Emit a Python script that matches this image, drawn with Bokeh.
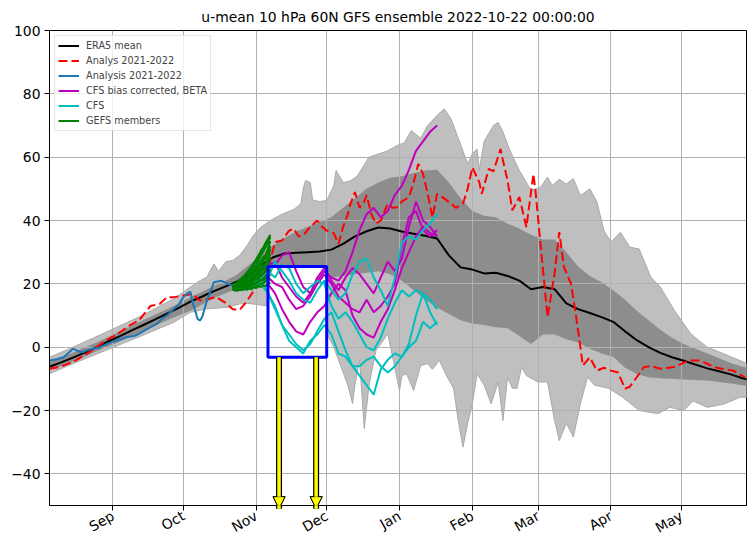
import numpy as np
from bokeh.plotting import figure
from bokeh.models import (Range1d, MonthsTicker, DatetimeTickFormatter, FixedTicker,
                          CustomJSTickFormatter, Legend, LegendItem, Arrow, NormalHead)
from bokeh.embed import file_html
from bokeh.resources import INLINE

TITLE = "u-mean 10 hPa 60N GFS ensemble 2022-10-22 00:00:00"
START = "2022-08-05T00:00:00"   # day 0 of every day-offset list below
X_END_DAY = 296.7

# ERA5 climatology: mean and inner (dark) band, every 5 days
era5_day = list(range(0, 301, 5))
era5_mean = [-6.2, -4.8, -3.3, -1.7, 0, 1.8, 3.5, 5.3, 7, 8.8,
             10.6, 12.4, 14.4, 16, 17.7, 19.2, 20.8, 23, 25.8, 28.3,
             29.6, 29.8, 30, 30.2, 30.8, 32.6, 35, 36.6, 37.8, 37.5,
             36.5, 35.8, 35.2, 34.3, 29, 25.2, 24.5, 23.3, 23.5, 22.5,
             21, 18.3, 19, 18.3, 13.8, 12, 10.8, 9.5, 8, 5,
             2.2, 0, -1.8, -3.2, -4.3, -5.5, -6.7, -7.6, -8.6, -9.8, -10.6]
dark_hi = [-4.7, -3.3, -1.8, 0, 1.5, 3.2, 5, 6.8, 8.6, 10.3,
           12, 13.8, 15.8, 17.5, 19.3, 21, 23, 26, 29, 32,
           34.5, 36.5, 38, 39.5, 41, 44, 47, 50, 52, 53.5,
           54, 55, 55.8, 56, 52, 47, 43, 41.5, 41, 39,
           37.5, 35.5, 34, 34, 30, 25.5, 22.5, 20.5, 18, 15,
           11.5, 8.5, 5.5, 3, 1, -0.5, -2, -3.5, -5, -6.2, -7]
dark_lo = [-7, -6, -4.5, -3, -1.3, 0.2, 1.8, 3.5, 5, 6.8,
           8.5, 10, 11.5, 13.5, 15.5, 17, 18.5, 20.5, 22, 21.5,
           21, 21, 21.5, 22, 22, 22.5, 23, 23.5, 24, 23,
           21, 18, 15, 12.5, 10.5, 8.5, 7.5, 7, 6.3, 6,
           3.5, 1, 4, 4, 2.5, 1.5, -0.5, -2, -3, -6.5,
           -8.5, -9.5, -9.8, -10, -10.2, -10.4, -10.5, -11, -11.5, -12, -12.3]

# Outer (light) band: upper and lower envelopes
light_hi_day = [0, 10, 24, 38, 47, 53, 60, 64, 67, 69, 70, 72, 75, 78, 81, 84, 87, 90, 94, 99,
                104, 107, 108, 109, 111, 112, 115, 118, 121, 122, 125, 128, 131, 136, 140, 144, 148, 151, 154, 158,
                161, 165, 168, 171, 175, 178, 180, 182, 183, 185, 189, 191, 193, 196, 200, 205, 209, 212, 214, 217,
                220, 223, 226, 230, 233, 236, 239, 243, 247, 251, 256, 260, 266, 273, 280, 287, 290, 297]
light_hi = [-3.2, 0, 4.7, 9.5, 13, 15.3, 19, 21, 22.1, 25, 26.3, 24, 27, 27.4, 29, 32, 35.5, 37.9, 40, 42,
            43.5, 45.3, 50, 52.6, 52, 46.5, 46, 46.3, 51, 55.8, 52, 52.5, 54, 60, 61, 62, 63.7, 64.5, 68.4, 66,
            70, 73.2, 75.3, 72, 64, 57.9, 61, 62.6, 56, 65, 70, 71, 68, 62.1, 55.8, 49.5, 50.5, 53.7, 51, 53,
            51.5, 53.2, 47.9, 50, 46, 36.8, 33.2, 36.3, 31.6, 31, 22.1, 19, 11.6, 4.2, 0, -2.1, -3, -5.2]
light_lo_day = [0, 10, 24, 38, 53, 60, 67, 76, 81, 85, 93, 102, 115, 118, 121, 124, 127, 129, 130, 132,
                134, 136, 139, 142, 144, 146, 149, 150, 152, 155, 158, 161, 163, 166, 169, 172, 174, 176, 178, 180,
                182, 185, 188, 191, 193, 195, 197, 199, 201, 203, 208, 212, 215, 217, 220, 223, 226, 229, 232, 238,
                244, 251, 259, 264, 270, 274, 280, 287, 294, 297]
light_lo = [-8.4, -5.2, -1, 3.2, 7.9, 11, 12.1, 12.6, 13.7, 13.8, 13, 12, 10, 4.3, 0, -6, -12, -17.8, -12, -4,
            -25.7, -12, -1, 2, 4.3, -3, -13.7, -9, -8.4, -13.7, -5.8, -5.2, -7, -4.2, -9, -13, -23.2, -31.6, -24, -18,
            -8.4, -12, -17.9, -11, -23.2, -9.5, -13, -13, -6.3, -9, -11, -11, -23.2, -29.5, -24, -28.4, -17.9, -9.5, -12, -13,
            -15.8, -20, -21, -19, -20, -17, -19, -18, -15.8, -15.8]

# Analys 2021-2022 (red dashed)
red_day = [0, 4, 10, 17, 24, 29, 34, 38, 43, 47, 50, 53, 57, 61, 64, 68, 71, 75, 78, 81,
           84, 88, 91, 94, 96, 99, 102, 104, 106, 108, 111, 114, 116, 118, 121, 123, 125, 127, 128, 130,
           132, 134, 135, 137, 139, 141, 144, 146, 148, 150, 153, 155, 157, 159, 161, 163, 165, 168, 171, 173,
           176, 178, 180, 183, 184, 187, 189, 192, 193, 195, 197, 200, 203, 206, 207, 209, 212, 215, 217, 219,
           222, 224, 226, 227, 230, 233, 236, 239, 242, 245, 247, 250, 253, 256, 260, 266, 272, 277, 283, 287,
           291, 296]
red_val = [-6.8, -6.3, -4.7, -1.6, 2.1, 4.2, 6.8, 8.4, 13, 13.7, 15.8, 15.8, 16.3, 16.8, 14.7, 15.3, 15.8, 14, 12, 11.8,
           14.5, 19, 21, 27.4, 33.2, 33.7, 36.8, 37.4, 35, 35.3, 38, 40, 38, 36.8, 36, 32.6, 38, 42, 45, 49,
           44, 46, 48, 42, 39, 40, 45.3, 44, 44.2, 46, 47.4, 52, 57.9, 54.7, 48.4, 41, 48.4, 47, 45.3, 44,
           45.3, 50, 56.8, 52, 48.4, 56.3, 55.5, 62.6, 59, 52.6, 43.2, 47.4, 37.9, 54.7, 48.4, 32.6, 9.5, 23.2, 36.3, 25.3,
           20, 10.5, 0, -5.8, -3.2, -7.4, -6.5, -7.4, -8, -13.1, -12.5, -9.5, -6.3, -6, -6.8, -6.3, -4.2, -4.2, -6.3, -7,
           -7.4, -9.5]

# Analysis 2021-2022 (blue)
blue_day = [0, 3, 6, 10, 12, 14, 16, 18, 21, 23, 26, 29, 33, 36, 38, 43, 46, 48, 50, 53,
            55, 57, 59, 60, 61, 62, 63, 64, 65, 67, 70, 73, 76, 78]
blue_val = [-4.2, -3.8, -3.2, -0.5, -1.2, -1.6, -1, -0.5, -0.2, 0.5, 1.5, 2.2, 3.2, 3.5, 4.2, 6.3, 7.5, 9, 10, 12.1,
            13.5, 15.8, 17.2, 17.4, 14, 11.6, 9, 8.4, 9.5, 14.7, 20.5, 21, 20, 19.5]

# CFS bias corrected (magenta), days 93..165 every 3 days
cfsbc_day = list(range(93, 166, 3))
cfsbc_members = [
    [27, 26, 29, 30, 24, 19, 17, 21, 24, 22, 21, 24, 30, 37, 42, 44, 41, 43, 48, 51, 56, 62, 65, 68, 70],
    [22, 20, 19, 15, 12, 13, 16, 20, 23, 20, 16, 14, 12, 11, 15, 11, 13, 16, 20, 32, 41, 43, 37, 35, 37],
    [20, 17, 12, 8, 5, 4, 8, 11, 13, 17, 20, 18, 10, 6, 4, 3, 8, 12, 18, 25, 30, 35, 38, 36, 35],
    [25, 27, 22, 19, 16, 14, 17, 22, 25, 21, 18, 22, 25, 23, 20, 17, 22, 27, 24, 28, 38, 46, 40, 38, 35],
]
# CFS (cyan), days 78..165 every 3 days
cfs_day = list(range(78, 166, 3))
cfs_members = [
    [20, 19, 21, 22, 21, 22, 27, 24, 21, 17, 15, 14, 18, 21, 18, 15, 17, 23, 27, 28, 22, 18, 13, 22, 33, 35, 34, 37, 39, 42],
    [19, 18, 20, 19, 21, 17, 12, 7, 4, 1, -1, 1, 5, 9, 11, 5, -1, -6, -9, -12, -15, -7, -4, -2, -3, 0, 2, 8, 6, 8],
    [18, 20, 19, 21, 20, 17, 13, 7, 2, 0, -2, 2, 4, 7, 4, -2, -3, -6, -6, -4, -3, -6, -8, -6, -3, 1, 10, 17, 11, 7],
    [19, 21, 22, 20, 22, 24, 22, 26, 25, 20, 17, 19, 21, 20, 13, 9, 11, 8, 4, 0, -1, 3, 9, 14, 18, 16, 18, 17, 15, 12],
]
# GEFS members (green), daily from day 78 to 94
gefs_day = list(range(78, 95))
gefs_members = [
    [19.0, 19.5, 20.0, 20.4, 21.0, 21.8, 22.0, 23.1, 24.0, 25.2, 26.0, 27.5, 29.0, 30.2, 31.5, 33.0, 35.0],
    [19.2, 19.0, 19.8, 20.5, 20.2, 21.0, 22.3, 22.8, 23.5, 24.0, 25.4, 26.0, 27.2, 28.5, 29.0, 31.2, 33.5],
    [18.8, 19.3, 19.5, 19.8, 20.6, 20.4, 21.2, 22.0, 22.5, 23.6, 24.0, 24.8, 26.0, 27.1, 28.4, 29.0, 31.0],
    [19.0, 18.6, 19.2, 19.6, 19.4, 20.3, 20.8, 21.0, 21.9, 22.4, 23.1, 24.2, 24.6, 25.8, 26.5, 28.0, 29.4],
    [18.7, 18.9, 18.5, 19.3, 19.8, 19.5, 20.2, 20.9, 21.2, 21.5, 22.4, 22.9, 23.8, 24.5, 25.0, 26.2, 27.8],
    [19.3, 19.8, 20.3, 20.9, 21.6, 22.5, 23.4, 24.0, 25.1, 26.3, 27.0, 28.2, 29.5, 30.4, 32.0, 33.6, 34.5],
    [18.4, 18.1, 18.6, 18.9, 18.5, 19.2, 19.0, 19.6, 20.1, 19.8, 20.5, 21.2, 21.0, 21.8, 22.5, 23.0, 24.6],
    [19.1, 19.4, 19.1, 19.9, 20.5, 21.1, 21.5, 22.6, 23.0, 23.3, 24.5, 25.5, 26.3, 27.5, 28.6, 30.1, 32.0],
    [18.9, 18.5, 19.0, 19.1, 19.9, 20.0, 20.5, 20.3, 21.0, 21.7, 21.5, 22.3, 22.8, 23.4, 24.3, 25.1, 26.0],
    [18.6, 18.3, 18.2, 18.8, 18.6, 18.9, 19.4, 19.1, 19.8, 20.2, 20.0, 20.6, 21.3, 21.0, 21.7, 22.1, 22.8],
    [18.2, 18.0, 17.8, 18.2, 18.0, 18.4, 18.1, 18.6, 18.3, 18.9, 18.7, 19.2, 19.0, 19.5, 19.3, 20.0, 20.5],
    [19.4, 20.0, 20.6, 21.3, 22.0, 22.6, 23.6, 24.5, 25.5, 26.5, 27.8, 29.0, 30.5, 31.5, 33.0, 34.2, 35.5],
    [18.5, 18.8, 19.4, 19.2, 19.7, 20.1, 20.0, 20.7, 21.5, 22.2, 22.9, 23.6, 24.2, 25.0, 26.2, 27.2, 28.5],
    [18.3, 18.0, 18.4, 18.6, 19.0, 18.8, 19.5, 19.8, 20.4, 20.9, 21.6, 21.8, 22.4, 23.2, 23.8, 24.6, 25.3],
    [19.0, 19.6, 19.4, 20.2, 20.8, 21.2, 22.0, 22.2, 22.8, 23.9, 24.7, 25.0, 26.5, 27.6, 28.0, 29.6, 30.8],
    [18.1, 17.9, 18.3, 18.0, 18.4, 18.2, 18.8, 18.5, 19.0, 19.3, 19.1, 19.6, 20.0, 20.2, 20.8, 21.1, 21.6],
]

# Highlight box and arrows
box_start, box_end = "2022-11-06T00:00:00", "2022-12-01T00:00:00"
box_bottom, box_top = -3.2, 25.5
arrow_dates = ["2022-11-10T17:00:00", "2022-11-26T12:00:00"]
arrow_tip = -51

y_ticks = [-40, -20, 0, 20, 40, 60, 80, 100]

# ---------------------------------------------------------------
T0 = np.datetime64(START)


def to_dates(days):
    return T0 + (np.asarray(days, dtype=float) * 86400).astype("timedelta64[s]")


def ms(d):
    return float((np.datetime64(d) - np.datetime64("1970-01-01T00:00:00")) / np.timedelta64(1, "ms"))


x0 = ms(START)
p = figure(width=756, height=551, output_backend="svg", toolbar_location=None,
           x_axis_type="datetime",
           x_range=Range1d(x0, x0 + X_END_DAY * 86400000.0),
           y_range=Range1d(-50, 100),
           min_border_left=49, min_border_right=10, min_border_top=30, min_border_bottom=46)
p.background_fill_color = "white"
p.border_fill_color = "white"
p.outline_line_color = "black"
p.outline_line_width = 1

FONT = "DejaVu Sans"
p.title.text = TITLE
p.title.align = "center"
p.title.text_font = FONT
p.title.text_font_size = "13.9px"
p.title.text_font_style = "normal"
p.title.text_color = "black"
p.title.standoff = 12

# bands
lx = np.concatenate([to_dates(light_hi_day), to_dates(light_lo_day)[::-1]])
ly = np.concatenate([np.array(light_hi, float), np.array(light_lo, float)[::-1]])
p.patch(x=lx, y=ly, fill_color="#bfbfbf", line_color="#a9a9a9", line_width=1, level="image")
ed = to_dates(era5_day)
p.varea(x=ed, y1=dark_lo, y2=dark_hi, fill_color="#8d8d8d", level="image")
p.quad(left=[np.datetime64(box_start)], right=[np.datetime64(box_end)],
       bottom=[box_bottom], top=[box_top], fill_color="white", line_color=None, level="image")

# grid
for g in (p.xgrid, p.ygrid):
    g.grid_line_color = "#b0b0b0"
    g.grid_line_width = 1

LW = 2
r_era5 = p.line(ed, era5_mean, line_color="black", line_width=LW)
r_red = p.line(to_dates(red_day), red_val, line_color="#ff0000", line_width=LW, line_dash="9 4")
r_blue = p.line(to_dates(blue_day), blue_val, line_color="#1f77b4", line_width=LW)
r_mag = []
for m in cfsbc_members:
    r_mag.append(p.line(to_dates(cfsbc_day), m, line_color="#bf00bf", line_width=LW))
r_cyan = []
for m in cfs_members:
    r_cyan.append(p.line(to_dates(cfs_day), m, line_color="#00bfbf", line_width=LW))
r_green = []
for m in gefs_members:
    r_green.append(p.line(to_dates(gefs_day), m, line_color="#008000", line_width=LW))

p.quad(left=[np.datetime64(box_start)], right=[np.datetime64(box_end)],
       bottom=[box_bottom], top=[box_top], fill_color=None, line_color="#0000ff", line_width=3)

for ad in arrow_dates:
    xa = ms(ad)
    for lc, lw in (("black", 6), ("yellow", 3.5)):
        p.add_layout(Arrow(end=NormalHead(size=12, fill_color="yellow", line_color="black", line_width=1),
                           x_start=xa, y_start=box_bottom, x_end=xa, y_end=arrow_tip,
                           line_color=lc, line_width=lw))

# axes
p.xaxis.ticker = MonthsTicker(months=list(range(12)))
p.xaxis.formatter = DatetimeTickFormatter(months="%b", days="%b", years="%b")
p.xaxis.major_label_orientation = np.pi / 6
p.yaxis.ticker = FixedTicker(ticks=y_ticks)
p.yaxis.formatter = CustomJSTickFormatter(code="return tick < 0 ? '\u2212' + Math.abs(tick) : String(tick);")
for ax in (p.xaxis, p.yaxis):
    ax.major_label_text_font = FONT
    ax.major_label_text_font_size = "13.9px"
    ax.major_label_text_color = "black"
    ax.axis_line_color = "black"
    ax.major_tick_line_color = "black"
    ax.major_tick_out = 5
    ax.major_tick_in = 0
    ax.minor_tick_line_color = None
    ax.major_label_standoff = 4

legend = Legend(items=[
    LegendItem(label="ERA5 mean", renderers=[r_era5]),
    LegendItem(label="Analys 2021-2022", renderers=[r_red]),
    LegendItem(label="Analysis 2021-2022", renderers=[r_blue]),
    LegendItem(label="CFS bias corrected, BETA", renderers=[r_mag[0]]),
    LegendItem(label="CFS", renderers=[r_cyan[0]]),
    LegendItem(label="GEFS members", renderers=[r_green[0]]),
], location="top_left")
legend.label_text_font = FONT
legend.label_text_font_size = "9.7px"
legend.glyph_width = 21
legend.glyph_height = 13
legend.label_height = 13
legend.spacing = 2
legend.padding = 3
legend.margin = 5
legend.label_standoff = 7
legend.border_line_color = "#cccccc"
legend.border_line_width = 1
legend.background_fill_alpha = 0.8
p.add_layout(legend)

open("out.html", "w").write(file_html(p, INLINE))
